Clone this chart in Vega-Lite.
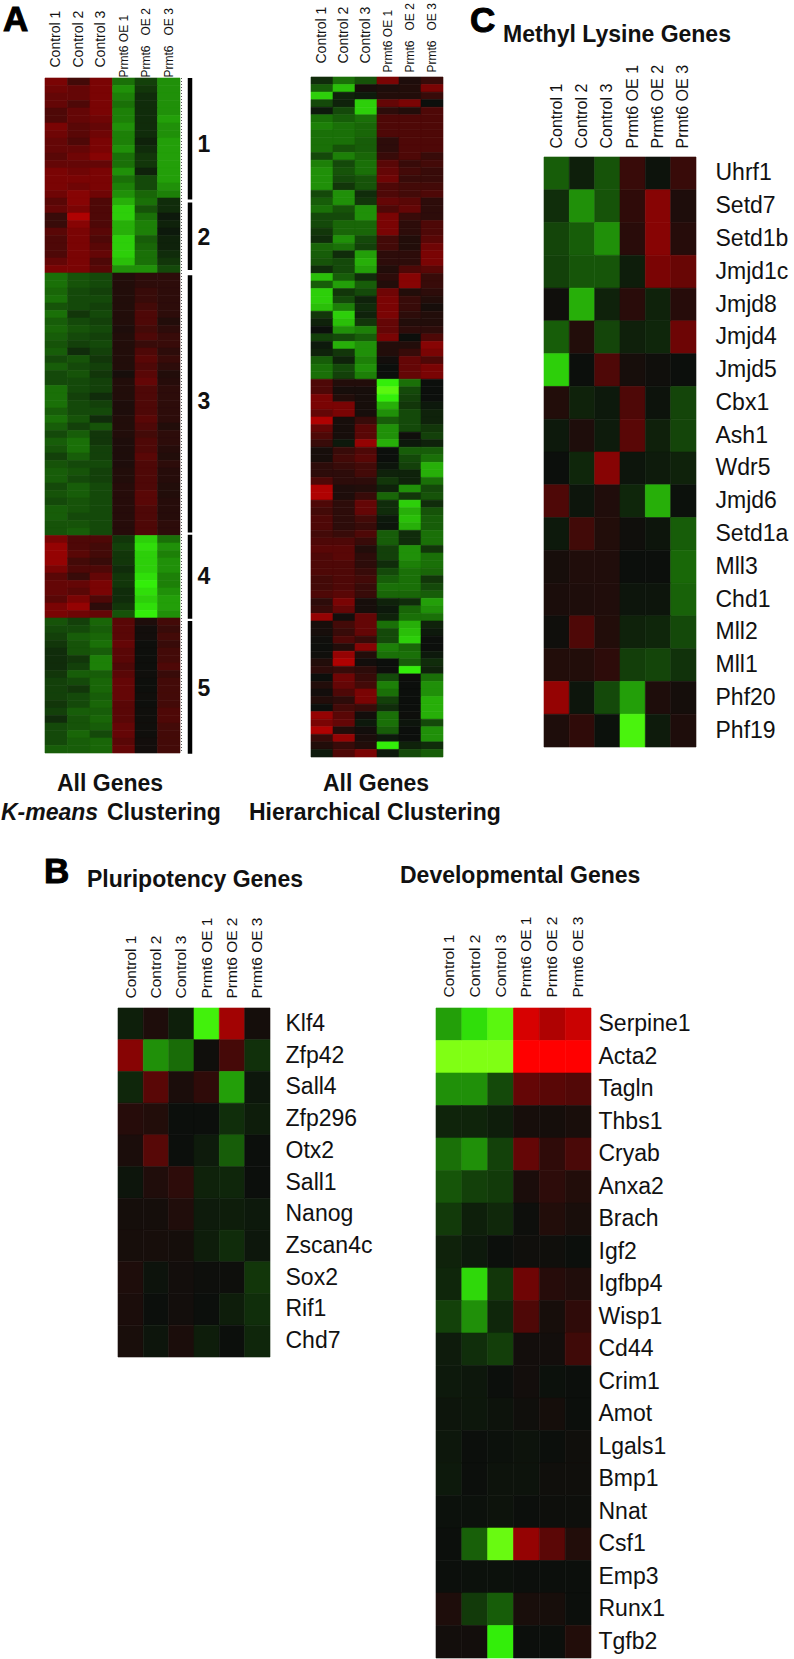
{"$schema":"https://vega.github.io/schema/vega-lite/v6.json","width":794,"height":1659,"padding":0,"autosize":{"type":"none"},"background":"white","config":{"view":{"stroke":null},"font":"Liberation Sans","rect":{"strokeWidth":0.6},"axis":{"domain":false,"ticks":false,"grid":false,"title":null,"labelColor":"#111111","labelFont":"Liberation Sans","labelLimit":0,"labelOverlap":false}},"resolve":{"scale":{"x":"independent","y":"independent","color":"shared","stroke":"shared"},"axis":{"x":"independent","y":"independent"}},"layer":[
{"data":{"values":[
{"r":1,"a":5,"b":2.5,"c":5,"d":-5,"e":-2.5,"f":-6},{"r":2,"a":4.5,"b":4,"c":5,"d":-6,"e":-2,"f":-6},{"r":3,"a":4,"b":4,"c":5,"d":-5.5,"e":-1.5,"f":-6},{"r":4,"a":4,"b":3,"c":5,"d":-5,"e":-1.5,"f":-6},{"r":5,"a":3,"b":4,"c":5,"d":-5.5,"e":-1.5,"f":-6},{"r":6,"a":3,"b":4,"c":4.5,"d":-5.5,"e":-1.5,"f":-6.5},{"r":7,"a":5,"b":3.5,"c":4,"d":-6,"e":-1.5,"f":-6},{"r":8,"a":4.5,"b":3.5,"c":4.5,"d":-5.5,"e":-1.5,"f":-6},{"r":9,"a":4,"b":3,"c":5,"d":-5.5,"e":-1,"f":-6.5},{"r":10,"a":4,"b":4,"c":5,"d":-6,"e":-1.5,"f":-6.5},{"r":11,"a":3.5,"b":4.5,"c":5.5,"d":-5,"e":-2,"f":-6.5},{"r":12,"a":4,"b":4,"c":4,"d":-5,"e":-2,"f":-6.5},{"r":13,"a":5,"b":4.5,"c":5,"d":-6,"e":-1,"f":-6.5},{"r":14,"a":5,"b":5,"c":5,"d":-5,"e":-3,"f":-6.5},{"r":15,"a":5,"b":4.5,"c":5,"d":-5.5,"e":-3,"f":-6},{"r":16,"a":4.5,"b":5.5,"c":4.5,"d":-6,"e":-4.5,"f":-5.5},
{"r":17,"a":3.5,"b":5.5,"c":3,"d":-7,"e":-5,"f":-1.5},{"r":18,"a":4,"b":5,"c":3,"d":-8,"e":-3.5,"f":-1.5},{"r":19,"a":2,"b":7,"c":3,"d":-8,"e":-5,"f":-0.5},{"r":20,"a":2,"b":5.5,"c":3,"d":-7,"e":-5.5,"f":-1},{"r":21,"a":3.5,"b":5,"c":3.5,"d":-7,"e":-5.5,"f":-0.5},{"r":22,"a":3,"b":5,"c":3,"d":-8,"e":-4,"f":-1},{"r":23,"a":3,"b":5,"c":3.5,"d":-8,"e":-4.5,"f":-1},{"r":24,"a":3,"b":5,"c":4,"d":-8,"e":-5,"f":-1.5},{"r":25,"a":4,"b":5,"c":3,"d":-7.5,"e":-5,"f":-2},{"r":26,"a":5,"b":5,"c":3.5,"d":-6,"e":-6,"f":-3},
{"r":27,"a":-5,"b":-3.5,"c":-3,"d":1,"e":1.5,"f":1.5},{"r":28,"a":-5,"b":-3.5,"c":-3,"d":1,"e":1.5,"f":1.5},{"r":29,"a":-4.5,"b":-3,"c":-2.5,"d":1,"e":2,"f":1.5},{"r":30,"a":-5,"b":-3,"c":-3,"d":1,"e":2,"f":1.5},{"r":31,"a":-3.5,"b":-3,"c":-2.5,"d":1,"e":2.5,"f":1.5},{"r":32,"a":-5,"b":-2,"c":-3,"d":1,"e":3,"f":1.5},{"r":33,"a":-4,"b":-3,"c":-2.5,"d":1,"e":3,"f":1},{"r":34,"a":-4.5,"b":-3.5,"c":-3,"d":0.8,"e":2.5,"f":1.5},{"r":35,"a":-4,"b":-3,"c":-2.5,"d":1,"e":3,"f":2},{"r":36,"a":-3.5,"b":-2.5,"c":-3,"d":1,"e":2,"f":2},{"r":37,"a":-4,"b":-1.5,"c":-2.5,"d":1,"e":3,"f":1.5},{"r":38,"a":-3,"b":-3.5,"c":-2,"d":1,"e":3.5,"f":2},{"r":39,"a":-4,"b":-3,"c":-2.5,"d":1,"e":3,"f":1.5},{"r":40,"a":-3,"b":-3.5,"c":-2,"d":0.5,"e":3.5,"f":1},{"r":41,"a":-3,"b":-3,"c":-2.5,"d":1,"e":4,"f":1.2},{"r":42,"a":-5,"b":-3,"c":-2.5,"d":1,"e":3,"f":1.5},{"r":43,"a":-5,"b":-2.5,"c":-1.5,"d":1,"e":3,"f":1.5},{"r":44,"a":-5,"b":-3,"c":-2.5,"d":0.8,"e":3,"f":1.5},{"r":45,"a":-4,"b":-3,"c":-3,"d":0.8,"e":3,"f":1.5},{"r":46,"a":-5,"b":-3.5,"c":-1.5,"d":1,"e":3.5,"f":1.5},{"r":47,"a":-4,"b":-2.5,"c":-3.5,"d":1,"e":3,"f":1},{"r":48,"a":-3,"b":-4,"c":-2,"d":1,"e":2.5,"f":1.5},{"r":49,"a":-4,"b":-5,"c":-2,"d":0.8,"e":3,"f":1.5},{"r":50,"a":-3.5,"b":-5,"c":-2.5,"d":0.8,"e":3,"f":1.2},{"r":51,"a":-2.5,"b":-4,"c":-2.5,"d":0.8,"e":3.5,"f":1},{"r":52,"a":-3.5,"b":-3,"c":-3,"d":0.8,"e":3,"f":1.5},{"r":53,"a":-4,"b":-3.5,"c":-2.5,"d":1,"e":3,"f":1.2},{"r":54,"a":-4,"b":-3,"c":-2.5,"d":1,"e":3,"f":1.2},{"r":55,"a":-3,"b":-4,"c":-3,"d":1.2,"e":3,"f":1},{"r":56,"a":-3.5,"b":-4,"c":-3,"d":1.2,"e":3.5,"f":1},{"r":57,"a":-3,"b":-3.5,"c":-3,"d":1.2,"e":3.5,"f":1.2},{"r":58,"a":-4,"b":-3.5,"c":-3,"d":1.2,"e":3,"f":1.2},{"r":59,"a":-4,"b":-3,"c":-3,"d":1.2,"e":3,"f":1.2},{"r":60,"a":-3.5,"b":-3.5,"c":-3,"d":1.2,"e":3,"f":1.5},{"r":61,"a":-3.5,"b":-4,"c":-3,"d":1.2,"e":3,"f":1.5},
{"r":62,"a":5,"b":3,"c":3,"d":-2,"e":-8,"f":-5},{"r":63,"a":6,"b":3,"c":2.5,"d":-2.5,"e":-8.5,"f":-6},{"r":64,"a":6,"b":3.5,"c":2.5,"d":-2,"e":-8,"f":-5.5},{"r":65,"a":6,"b":2.5,"c":2,"d":-2,"e":-8,"f":-6},{"r":66,"a":5,"b":3,"c":3,"d":-1.5,"e":-8,"f":-6},{"r":67,"a":3.5,"b":2,"c":4,"d":-2,"e":-8.5,"f":-5.5},{"r":68,"a":4,"b":4,"c":5,"d":-2,"e":-9,"f":-5.5},{"r":69,"a":4,"b":3.5,"c":5,"d":-1.5,"e":-8.5,"f":-6},{"r":70,"a":3.5,"b":5,"c":3,"d":-1.5,"e":-8,"f":-6.5},{"r":71,"a":5,"b":6,"c":1.5,"d":-2,"e":-8.5,"f":-6.5},{"r":72,"a":5,"b":4.5,"c":4,"d":-3.5,"e":-9,"f":-6},
{"r":73,"a":-3.5,"b":-2.5,"c":-4.5,"d":3.5,"e":0.8,"f":2.5},{"r":74,"a":-3,"b":-3,"c":-4,"d":3.5,"e":0.3,"f":2},{"r":75,"a":-2.5,"b":-4,"c":-4.5,"d":3.5,"e":0.3,"f":2.5},{"r":76,"a":-2,"b":-3.5,"c":-5,"d":4,"e":0.1,"f":2},{"r":77,"a":-1.5,"b":-3.5,"c":-4,"d":3.5,"e":0.1,"f":2.5},{"r":78,"a":-1.5,"b":-2,"c":-5.5,"d":3.5,"e":0.1,"f":2.5},{"r":79,"a":-1.5,"b":-2.5,"c":-5.5,"d":3,"e":0.1,"f":3},{"r":80,"a":-2,"b":-4,"c":-4,"d":3.5,"e":0.2,"f":2},{"r":81,"a":-2.5,"b":-3,"c":-4.5,"d":4,"e":0.1,"f":2.5},{"r":82,"a":-2.5,"b":-2,"c":-4.5,"d":4,"e":0.1,"f":2.5},{"r":83,"a":-2.5,"b":-3,"c":-4,"d":4,"e":0.2,"f":2.5},{"r":84,"a":-2,"b":-3,"c":-4.5,"d":3.5,"e":0.1,"f":2.5},{"r":85,"a":-2.5,"b":-4,"c":-4,"d":3.5,"e":0.2,"f":3},{"r":86,"a":-1.5,"b":-3.5,"c":-4.5,"d":3.5,"e":0.2,"f":3},{"r":87,"a":-3,"b":-3.5,"c":-4,"d":4,"e":0.2,"f":2.5},{"r":88,"a":-3,"b":-4.5,"c":-3,"d":4,"e":0.2,"f":2.5},{"r":89,"a":-3,"b":-4,"c":-4.5,"d":3.5,"e":0.3,"f":2.5},{"r":90,"a":-4,"b":-4,"c":-4.5,"d":4,"e":0.3,"f":2.5}
]},"transform":[{"fold":["a","b","c","d","e","f"],"as":["s","v"]}],"mark":{"type":"rect"},"encoding":{
"x":{"field":"s","type":"nominal","scale":{"range":[45,180],"padding":0},"axis":{"orient":"top","offset":-78,"labelAngle":-90,"labelExpr":"{a:'Control 1',b:'Control 2',c:'Control 3',d:'Prmt6 OE 1',e:'Prmt6\u00a0\u00a0 OE 2',f:'Prmt6\u00a0\u00a0 OE 3'}[datum.value]","labelFontSize":{"condition":{"test":"datum.value<'d'","value":14},"value":12},"labelPadding":{"condition":{"test":"datum.value<'d'","value":11},"value":1}}},
"y":{"field":"r","type":"ordinal","scale":{"range":[78,753],"padding":0},"axis":null},
"color":{"field":"v","type":"quantitative","legend":null,"scale":{"domain":[-10,-9,-5,0,5,10],"range":["#80ff14","#33ee0a","#1a7008","#0c0f0c","#7a0404","#ff0000"],"interpolate":"rgb"}},
"stroke":{"field":"v","type":"quantitative","legend":null,"scale":{"domain":[-10,-9,-5,0,5,10],"range":["#80ff14","#33ee0a","#1a7008","#0c0f0c","#7a0404","#ff0000"],"interpolate":"rgb"}}}},
{"data":{"values":[
{"r":1,"a":-1.5,"b":-5,"c":-3.5,"d":5,"e":0.8,"f":2},{"r":2,"a":-4,"b":-7.5,"c":0.5,"d":0.8,"e":1,"f":5},{"r":3,"a":-8,"b":-1,"c":-0.6,"d":1,"e":1,"f":2},{"r":4,"a":-3,"b":-1,"c":-8,"d":4,"e":5,"f":0},{"r":5,"a":-0.5,"b":-3,"c":-8,"d":1.5,"e":1,"f":3},{"r":6,"a":-5,"b":-4,"c":-5,"d":3,"e":3,"f":3},{"r":7,"a":-5.5,"b":-5,"c":-4.5,"d":3,"e":3,"f":3},{"r":8,"a":-5,"b":-5,"c":-4.5,"d":3,"e":3,"f":3},{"r":9,"a":-5,"b":-5,"c":-4,"d":1.5,"e":3,"f":3},{"r":10,"a":-5,"b":-3.5,"c":-4,"d":1.5,"e":3,"f":3},{"r":11,"a":-3,"b":-5.5,"c":-4.5,"d":2,"e":3,"f":2},{"r":12,"a":-5.5,"b":-3,"c":-5,"d":3.5,"e":2,"f":2.5},{"r":13,"a":-6,"b":-3.5,"c":-5,"d":4,"e":2.5,"f":2},{"r":14,"a":-6,"b":-3,"c":-3.5,"d":4.5,"e":2,"f":2},{"r":15,"a":-6,"b":-2,"c":-3.5,"d":3,"e":2.5,"f":2.5},{"r":16,"a":-3,"b":-6,"c":-1.5,"d":3,"e":2.5,"f":3},{"r":17,"a":-4,"b":-6,"c":-2,"d":4,"e":3.5,"f":1.5},{"r":18,"a":-5,"b":-3.5,"c":-6,"d":3,"e":4,"f":1.5},{"r":19,"a":-3,"b":-3,"c":-6,"d":5,"e":2,"f":1.5},{"r":20,"a":-3,"b":-4.5,"c":-4.5,"d":5,"e":1.5,"f":3},{"r":21,"a":-2,"b":-4.5,"c":-4.5,"d":5,"e":1.5,"f":3},{"r":22,"a":-1.5,"b":-6,"c":-3,"d":2.5,"e":1,"f":3.5},{"r":23,"a":-4.5,"b":-5,"c":-2.5,"d":2.5,"e":1,"f":4.5},{"r":24,"a":-4,"b":-1.5,"c":-6.5,"d":1.5,"e":1.5,"f":5},{"r":25,"a":-3.5,"b":-3,"c":-7,"d":1.5,"e":1.5,"f":5},{"r":26,"a":-1.5,"b":-3,"c":-6.5,"d":1,"e":3,"f":3.5},{"r":27,"a":-7.5,"b":-4,"c":-1.5,"d":1.5,"e":5.5,"f":2},{"r":28,"a":-4,"b":-6.5,"c":-4,"d":1,"e":5.5,"f":2},{"r":29,"a":-8,"b":-2,"c":-3,"d":4.5,"e":1,"f":1.5},{"r":30,"a":-8,"b":-3,"c":-1,"d":5,"e":2,"f":1},{"r":31,"a":-7.5,"b":-5.5,"c":-1.5,"d":5,"e":2,"f":0.5},{"r":32,"a":-2,"b":-8,"c":-1,"d":5,"e":1.5,"f":1},{"r":33,"a":-1,"b":-7.5,"c":-2,"d":4,"e":1,"f":1},{"r":34,"a":0,"b":-6,"c":-5.5,"d":4,"e":1.5,"f":1.5},{"r":35,"a":-2.5,"b":-3,"c":-4,"d":5,"e":0,"f":3},{"r":36,"a":-0.5,"b":-7,"c":-6,"d":1,"e":1,"f":5.5},{"r":37,"a":-1,"b":-2,"c":-6,"d":1,"e":2,"f":5},{"r":38,"a":-4,"b":-1,"c":-5.5,"d":0.3,"e":4,"f":3},{"r":39,"a":-5,"b":-3,"c":-6,"d":0,"e":4,"f":5},{"r":40,"a":-5,"b":-2.5,"c":-5.5,"d":0,"e":4,"f":5},
{"r":41,"a":3,"b":1,"c":1,"d":-9,"e":-5,"f":0},{"r":42,"a":3,"b":0.5,"c":0.5,"d":-9.5,"e":-3,"f":0},{"r":43,"a":5,"b":1,"c":0.5,"d":-9,"e":-2.5,"f":0},{"r":44,"a":5,"b":5,"c":0.5,"d":-7,"e":-2,"f":-0.5},{"r":45,"a":4,"b":5,"c":0.5,"d":-6,"e":-3,"f":-1},{"r":46,"a":7,"b":0.5,"c":2,"d":-4,"e":-3,"f":-1},{"r":47,"a":4,"b":0.5,"c":3.5,"d":-6,"e":-3,"f":-2},{"r":48,"a":3,"b":0.5,"c":3.5,"d":-6,"e":0.2,"f":-2.5},{"r":49,"a":2,"b":-0.5,"c":6,"d":-7,"e":-0.5,"f":-1},{"r":50,"a":0.5,"b":2,"c":3,"d":0,"e":-4,"f":-4},{"r":51,"a":0.5,"b":2.5,"c":3.5,"d":0,"e":-3,"f":-5},{"r":52,"a":1.5,"b":2,"c":2.5,"d":-0.3,"e":-2.5,"f":-7},{"r":53,"a":1.5,"b":1.5,"c":2.5,"d":-1,"e":-1,"f":-7},{"r":54,"a":3,"b":1.5,"c":1.5,"d":-2,"e":-1,"f":-5},{"r":55,"a":7,"b":0.8,"c":1,"d":-1,"e":-6,"f":-3},{"r":56,"a":7,"b":0.8,"c":2,"d":-4.5,"e":-2,"f":-3.5},{"r":57,"a":3,"b":1.5,"c":4,"d":-1.5,"e":-8,"f":-1.5},{"r":58,"a":2.5,"b":1.5,"c":4,"d":-1.5,"e":-7,"f":-3.5},{"r":59,"a":3,"b":1.5,"c":2.5,"d":-0.5,"e":-7.5,"f":-4},{"r":60,"a":3,"b":1.5,"c":2,"d":-0.3,"e":-7,"f":-4},{"r":61,"a":2.5,"b":2,"c":3,"d":-4,"e":-1.5,"f":-5},{"r":62,"a":3,"b":3,"c":2,"d":-4,"e":-1.5,"f":-5},{"r":63,"a":3.5,"b":3.5,"c":1,"d":-2.5,"e":-6,"f":-2},{"r":64,"a":3,"b":3.5,"c":1.5,"d":-2.5,"e":-6,"f":-5},{"r":65,"a":3,"b":3,"c":1.5,"d":-1.5,"e":-5.5,"f":-5},{"r":66,"a":3,"b":3,"c":2,"d":-3,"e":-5,"f":-4.5},{"r":67,"a":2.5,"b":3,"c":2.5,"d":-4,"e":-5,"f":-2},{"r":68,"a":2.5,"b":3,"c":2,"d":-5,"e":-5,"f":-3},{"r":69,"a":3,"b":3.5,"c":2,"d":-4.5,"e":-4.5,"f":-4},{"r":70,"a":1.5,"b":5,"c":0.5,"d":-1,"e":-1.5,"f":-6.5},{"r":71,"a":2,"b":4,"c":0.5,"d":-0.5,"e":-4.5,"f":-6},{"r":72,"a":6,"b":0.3,"c":4,"d":-1,"e":-5,"f":-5},{"r":73,"a":0.5,"b":2.5,"c":4,"d":-5,"e":-7,"f":-1},{"r":74,"a":0.5,"b":2,"c":4,"d":-3,"e":-7.5,"f":-0.5},{"r":75,"a":0.2,"b":3,"c":2,"d":-3,"e":-8,"f":0},{"r":76,"a":0.1,"b":1,"c":5.5,"d":-5.5,"e":-4.5,"f":0},{"r":77,"a":0.2,"b":6,"c":1,"d":-5,"e":-5,"f":-0.5},{"r":78,"a":1,"b":7,"c":0.3,"d":0,"e":-4,"f":-1.5},{"r":79,"a":1.5,"b":2,"c":1.5,"d":0.1,"e":-9,"f":-1},{"r":80,"a":0,"b":4.5,"c":2,"d":-3,"e":0.1,"f":-5},{"r":81,"a":1,"b":4,"c":2.5,"d":-5.5,"e":0,"f":-6},{"r":82,"a":0.3,"b":3,"c":5,"d":-5,"e":0,"f":-6},{"r":83,"a":1,"b":1.5,"c":5,"d":-2.5,"e":0,"f":-7},{"r":84,"a":0,"b":2.5,"c":2,"d":-1.5,"e":0,"f":-7},{"r":85,"a":6,"b":3.5,"c":0.3,"d":-5,"e":0.1,"f":-7},{"r":86,"a":5,"b":4,"c":-0.5,"d":-5,"e":-0.3,"f":-3},{"r":87,"a":7,"b":1,"c":0.3,"d":-4,"e":0,"f":-6},{"r":88,"a":2,"b":6,"c":0.7,"d":-0.5,"e":0,"f":-6},{"r":89,"a":1,"b":2,"c":1,"d":-9,"e":-1,"f":-1.5},{"r":90,"a":-0.5,"b":3,"c":5,"d":-0.5,"e":-3,"f":-4}
]},"transform":[{"fold":["a","b","c","d","e","f"],"as":["s","v"]}],"mark":{"type":"rect"},"encoding":{
"x":{"field":"s","type":"nominal","scale":{"range":[311,443],"padding":0},"axis":{"orient":"top","offset":-77,"labelAngle":-90,"labelExpr":"{a:'Control 1',b:'Control 2',c:'Control 3',d:'Prmt6 OE 1',e:'Prmt6\u00a0\u00a0 OE 2',f:'Prmt6\u00a0\u00a0 OE 3'}[datum.value]","labelFontSize":{"condition":{"test":"datum.value<'d'","value":14},"value":12},"labelPadding":{"condition":{"test":"datum.value<'d'","value":14},"value":5}}},
"y":{"field":"r","type":"ordinal","scale":{"range":[77,757],"padding":0},"axis":null},
"color":{"field":"v","type":"quantitative","legend":null,"scale":{"domain":[-10,-9,-5,0,5,10],"range":["#80ff14","#33ee0a","#1a7008","#0c0f0c","#7a0404","#ff0000"],"interpolate":"rgb"}},
"stroke":{"field":"v","type":"quantitative","legend":null,"scale":{"domain":[-10,-9,-5,0,5,10],"range":["#80ff14","#33ee0a","#1a7008","#0c0f0c","#7a0404","#ff0000"],"interpolate":"rgb"}}}},
{"data":{"values":[
{"g":"Uhrf1","a":-4,"b":-0.8,"c":-3.5,"d":2,"e":-0.2,"f":2},{"g":"Setd7","a":-1.6,"b":-6,"c":-3.5,"d":1.6,"e":5.5,"f":0.8},{"g":"Setd1b","a":-2.8,"b":-4,"c":-6,"d":1.3,"e":5.5,"f":1.2},{"g":"Jmjd1c","a":-2.6,"b":-3.6,"c":-3.6,"d":-0.7,"e":5,"f":4.2},{"g":"Jmjd8","a":0.2,"b":-7,"c":-1,"d":1.3,"e":-1,"f":1.2},{"g":"Jmjd4","a":-4,"b":1,"c":-2.8,"d":-0.9,"e":-1.2,"f":4.4},{"g":"Jmjd5","a":-8,"b":0,"c":3,"d":0.5,"e":0.2,"f":0},{"g":"Cbx1","a":1,"b":-1,"c":-0.5,"d":3,"e":-0.2,"f":-2.8},{"g":"Ash1","a":-0.5,"b":0.8,"c":-0.6,"d":3.5,"e":-0.9,"f":-2.8},{"g":"Wdr5","a":0,"b":-1.2,"c":5.5,"d":-0.3,"e":-0.6,"f":-1},{"g":"Jmjd6","a":3,"b":-0.3,"c":0.9,"d":-1.2,"e":-7,"f":-0.1},{"g":"Setd1a","a":-0.5,"b":2.4,"c":1,"d":0.2,"e":-0.3,"f":-4},{"g":"Mll3","a":0.5,"b":0.9,"c":0.9,"d":0,"e":0,"f":-4.6},{"g":"Chd1","a":0.7,"b":0.8,"c":0.9,"d":-0.3,"e":-0.3,"f":-4.3},{"g":"Mll2","a":0.2,"b":3,"c":1,"d":-1,"e":-1.2,"f":-3},{"g":"Mll1","a":1,"b":1,"c":1.5,"d":-2.4,"e":-2.8,"f":-1.8},{"g":"Phf20","a":6,"b":-0.3,"c":-3,"d":-6.5,"e":0.8,"f":0.4},{"g":"Phf19","a":0.8,"b":1.6,"c":-0.1,"d":-9.3,"e":-0.6,"f":0.8}
]},"transform":[{"fold":["a","b","c","d","e","f"],"as":["s","v"]}],"mark":{"type":"rect"},"encoding":{
"x":{"field":"s","type":"nominal","scale":{"range":[544,696],"padding":0},"axis":{"orient":"top","offset":-157,"labelAngle":-90,"labelFontSize":16,"labelPadding":9,"labelExpr":"{a:'Control 1',b:'Control 2',c:'Control 3',d:'Prmt6 OE 1',e:'Prmt6 OE 2',f:'Prmt6 OE 3'}[datum.value]"}},
"y":{"field":"g","type":"nominal","sort":null,"scale":{"range":[157,747],"padding":0},"axis":{"orient":"right","offset":-98,"labelPadding":19,"labelFontSize":23,"labelAlign":"left"}},
"color":{"field":"v","type":"quantitative","legend":null,"scale":{"domain":[-10,-9,-5,0,5,10],"range":["#80ff14","#33ee0a","#1a7008","#0c0f0c","#7a0404","#ff0000"],"interpolate":"rgb"}},
"stroke":{"field":"v","type":"quantitative","legend":null,"scale":{"domain":[-10,-9,-5,0,5,10],"range":["#80ff14","#33ee0a","#1a7008","#0c0f0c","#7a0404","#ff0000"],"interpolate":"rgb"}}}},
{"data":{"values":[
{"g":"Klf4","a":-0.8,"b":0.8,"c":-0.8,"d":-9.2,"e":6.5,"f":0.4},{"g":"Zfp42","a":5.5,"b":-6,"c":-4.8,"d":0.2,"e":2.6,"f":-1.7},{"g":"Sall4","a":-1.2,"b":3.5,"c":0.7,"d":1.6,"e":-6.5,"f":-0.4},{"g":"Zfp296","a":1.2,"b":1,"c":0,"d":0,"e":-1.6,"f":-0.7},{"g":"Otx2","a":0.7,"b":3.4,"c":0,"d":-0.6,"e":-4,"f":0},{"g":"Sall1","a":-0.3,"b":0.9,"c":1.5,"d":-1,"e":-1.2,"f":0},{"g":"Nanog","a":0.4,"b":0.4,"c":0.9,"d":-0.6,"e":-0.7,"f":-0.5},{"g":"Zscan4c","a":0.5,"b":0.5,"c":0.4,"d":-0.7,"e":-1.5,"f":-0.4},{"g":"Sox2","a":0.8,"b":-0.2,"c":0.3,"d":0.1,"e":0.1,"f":-2},{"g":"Rif1","a":0.7,"b":0,"c":0.3,"d":0,"e":-0.7,"f":-1.6},{"g":"Chd7","a":0.6,"b":-0.3,"c":0.7,"d":-0.7,"e":0,"f":-1.2}
]},"transform":[{"fold":["a","b","c","d","e","f"],"as":["s","v"]}],"mark":{"type":"rect"},"encoding":{
"x":{"field":"s","type":"nominal","scale":{"range":[118,270],"padding":0},"axis":{"orient":"top","offset":-1008,"labelAngle":-90,"labelFontSize":15.5,"labelPadding":10,"labelExpr":"{a:'Control 1',b:'Control 2',c:'Control 3',d:'Prmt6 OE 1',e:'Prmt6 OE 2',f:'Prmt6 OE 3'}[datum.value]"}},
"y":{"field":"g","type":"nominal","sort":null,"scale":{"range":[1008,1357],"padding":0},"axis":{"orient":"right","offset":-524,"labelPadding":15,"labelFontSize":23,"labelAlign":"left"}},
"color":{"field":"v","type":"quantitative","legend":null,"scale":{"domain":[-10,-9,-5,0,5,10],"range":["#80ff14","#33ee0a","#1a7008","#0c0f0c","#7a0404","#ff0000"],"interpolate":"rgb"}},
"stroke":{"field":"v","type":"quantitative","legend":null,"scale":{"domain":[-10,-9,-5,0,5,10],"range":["#80ff14","#33ee0a","#1a7008","#0c0f0c","#7a0404","#ff0000"],"interpolate":"rgb"}}}},
{"data":{"values":[
{"g":"Serpine1","a":-6.5,"b":-8.5,"c":-9.5,"d":8.5,"e":7,"f":8},{"g":"Acta2","a":-10,"b":-10,"c":-10,"d":10,"e":10,"f":10},{"g":"Tagln","a":-6,"b":-6,"c":-3,"d":4,"e":3.5,"f":3.2},{"g":"Thbs1","a":-1.1,"b":-1.1,"c":-0.7,"d":0.5,"e":0.4,"f":0.6},{"g":"Cryab","a":-5,"b":-6,"c":-2.6,"d":4,"e":1.6,"f":2.8},{"g":"Anxa2","a":-3.6,"b":-2.5,"c":-2.2,"d":0.7,"e":1.5,"f":1},{"g":"Brach","a":-2.2,"b":-0.8,"c":-1.3,"d":0.1,"e":1,"f":0.6},{"g":"Igf2","a":-1,"b":-0.5,"c":0,"d":0.2,"e":0.2,"f":0},{"g":"Igfbp4","a":-1.2,"b":-8.3,"c":-2,"d":4.5,"e":1.2,"f":0.9},{"g":"Wisp1","a":-2.6,"b":-6,"c":-1.2,"d":3,"e":0.5,"f":1.6},{"g":"Cd44","a":-0.6,"b":-1.6,"c":-2.4,"d":0.3,"e":0.3,"f":2.3},{"g":"Crim1","a":-0.5,"b":-0.4,"c":0,"d":0.3,"e":-0.1,"f":0},{"g":"Amot","a":-0.3,"b":-0.4,"c":-0.2,"d":0.2,"e":0.4,"f":0},{"g":"Lgals1","a":-0.4,"b":0,"c":-0.1,"d":-0.2,"e":0,"f":0.2},{"g":"Bmp1","a":-0.5,"b":0,"c":-0.2,"d":-0.2,"e":0.2,"f":0.2},{"g":"Nnat","a":-0.1,"b":-0.1,"c":-0.2,"d":0,"e":0.1,"f":0.1},{"g":"Csf1","a":0,"b":-4.2,"c":-9.7,"d":6,"e":3.6,"f":1},{"g":"Emp3","a":0,"b":-0.1,"c":-0.1,"d":0,"e":0,"f":0},{"g":"Runx1","a":0.8,"b":-2.2,"c":-4,"d":0.6,"e":0.5,"f":0},{"g":"Tgfb2","a":0.3,"b":0.3,"c":-9,"d":0,"e":0,"f":1}
]},"transform":[{"fold":["a","b","c","d","e","f"],"as":["s","v"]}],"mark":{"type":"rect"},"encoding":{
"x":{"field":"s","type":"nominal","scale":{"range":[436,591],"padding":0},"axis":{"orient":"top","offset":-1008,"labelAngle":-90,"labelFontSize":15.5,"labelPadding":11,"labelExpr":"{a:'Control 1',b:'Control 2',c:'Control 3',d:'Prmt6 OE 1',e:'Prmt6 OE 2',f:'Prmt6 OE 3'}[datum.value]"}},
"y":{"field":"g","type":"nominal","sort":null,"scale":{"range":[1008,1658],"padding":0},"axis":{"orient":"right","offset":-203,"labelPadding":7,"labelFontSize":23,"labelAlign":"left"}},
"color":{"field":"v","type":"quantitative","legend":null,"scale":{"domain":[-10,-9,-5,0,5,10],"range":["#80ff14","#33ee0a","#1a7008","#0c0f0c","#7a0404","#ff0000"],"interpolate":"rgb"}},
"stroke":{"field":"v","type":"quantitative","legend":null,"scale":{"domain":[-10,-9,-5,0,5,10],"range":["#80ff14","#33ee0a","#1a7008","#0c0f0c","#7a0404","#ff0000"],"interpolate":"rgb"}}}},
{"data":{"values":[{"k":"all","from":0,"to":90}]},"mark":{"type":"rule","color":"#555555","strokeWidth":1,"strokeDash":[1,2]},"encoding":{
"x":{"field":"k","type":"nominal","scale":{"range":[181.5,181.5]},"axis":null},
"y":{"field":"from","type":"quantitative","scale":{"domain":[0,90],"range":[78,753]},"axis":null},"y2":{"field":"to"}}},
{"data":{"values":[{"k":"1","from":0,"to":16.2},{"k":"2","from":16.6,"to":25.6},{"k":"3","from":26.3,"to":60.6},{"k":"4","from":60.9,"to":72.1},{"k":"5","from":72.4,"to":90.1}]},"mark":{"type":"rule","color":"#000000","strokeWidth":4.5},"encoding":{
"x":{"field":"k","type":"nominal","scale":{"range":[190,190]},"axis":null},
"y":{"field":"from","type":"quantitative","scale":{"domain":[0,90],"range":[78,753]},"axis":null},"y2":{"field":"to"}}},
{"data":{"values":[{"k":"1","mid":8.9},{"k":"2","mid":21.3},{"k":"3","mid":43.2},{"k":"4","mid":66.5},{"k":"5","mid":81.5}]},"mark":{"type":"text","font":"Liberation Sans","fontWeight":"bold","fontSize":23,"color":"#111111","baseline":"middle","align":"center"},"encoding":{
"text":{"field":"k"},
"x":{"field":"k","type":"nominal","scale":{"range":[204,204]},"axis":null},
"y":{"field":"mid","type":"quantitative","scale":{"domain":[0,90],"range":[78,753]},"axis":null}}},
{"data":{"values":[{"n":0,"label":"A"},{"n":1,"label":"B"},{"n":2,"label":"C"}]},"mark":{"type":"text","font":"Liberation Sans","fontWeight":"bold","fontSize":35,"color":"#000000","stroke":"#000000","strokeWidth":1,"align":"left","baseline":"alphabetic"},"encoding":{
"text":{"field":"label"},
"x":{"field":"n","type":"quantitative","scale":{"domain":[0,1,2],"range":[3,44,470]},"axis":null},
"y":{"field":"n","type":"quantitative","scale":{"domain":[0,1,2],"range":[31,883,32]},"axis":null}}},
{"data":{"values":[{"n":0,"label":"All Genes"},{"n":1,"label":"Clustering"},{"n":2,"label":"All Genes"},{"n":3,"label":"Hierarchical Clustering"},{"n":4,"label":"Pluripotency Genes"},{"n":5,"label":"Developmental Genes"},{"n":6,"label":"Methyl Lysine Genes"}]},"mark":{"type":"text","font":"Liberation Sans","fontWeight":"bold","fontSize":23,"color":"#111111","align":"left","baseline":"alphabetic"},"encoding":{
"text":{"field":"label"},
"x":{"field":"n","type":"quantitative","scale":{"domain":[0,1,2,3,4,5,6],"range":[57,107,323,249,87,400,503]},"axis":null},
"y":{"field":"n","type":"quantitative","scale":{"domain":[0,1,2,3,4,5,6],"range":[791,820,791,820,887,883,42]},"axis":null}}},
{"data":{"values":[{"n":0,"label":"K-means"}]},"mark":{"type":"text","font":"Liberation Sans","fontWeight":"bold","fontStyle":"italic","fontSize":23,"color":"#111111","align":"left","baseline":"alphabetic"},"encoding":{
"text":{"field":"label"},
"x":{"field":"n","type":"quantitative","scale":{"domain":[0,1],"range":[1,1]},"axis":null},
"y":{"field":"n","type":"quantitative","scale":{"domain":[0,1],"range":[820,820]},"axis":null}}}
]}
